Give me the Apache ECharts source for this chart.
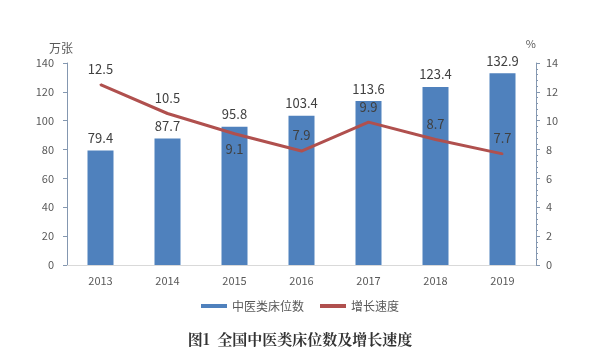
<!DOCTYPE html>
<html><head><meta charset="utf-8">
<script src="https://cdn.jsdelivr.net/npm/echarts@6/dist/echarts.min.js"></script>
<style>html,body{margin:0;padding:0;background:#fff}#c{width:600px;height:363px}</style>
</head><body><div id="c"></div>
<script>
const years = ['2013','2014','2015','2016','2017','2018','2019'];
const beds = [79.4, 87.7, 95.8, 103.4, 113.6, 123.4, 132.9];
const growth = [12.5, 10.5, 9.1, 7.9, 9.9, 8.7, 7.7];
const growthLabelPos = ['top','top','bottom','top','top','top','top'];
const barName = '中医类床位数';
const lineName = '增长速度';
const titleText = '图1  全国中医类床位数及增长速度';

const axisColor = '#8497B0';
const labelColor = '#595959';
const font = '"Noto Sans CJK SC", "Noto Sans", sans-serif';

const chart = echarts.init(document.getElementById('c'), null, {renderer:'canvas'});
chart.setOption({
  animation:false,
  textStyle:{fontFamily:font},
  title:{text:titleText, left:'center', top:327, textStyle:{fontSize:15, fontWeight:'bold', color:'#333', fontFamily:'"Noto Serif CJK SC","Noto Sans CJK SC",serif'}},
  legend:{
    bottom:46, left:'center', itemGap:16, itemWidth:26, itemHeight:4,
    textStyle:{fontSize:12, color:labelColor},
    data:[
      {name:barName, icon:'rect'},
      {name:lineName, icon:'rect', itemStyle:{color:'#B0504E', opacity:1}}
    ]
  },
  grid:{left:67, right:64, top:63, bottom:98},
  xAxis:{
    type:'category', data:years,
    axisLine:{lineStyle:{color:'#D9D9D9'}},
    axisTick:{show:false},
    axisLabel:{color:labelColor, fontSize:11, margin:10}
  },
  yAxis:[
    {type:'value', min:0, max:140, interval:20, name:'万张',
     nameTextStyle:{color:labelColor, fontSize:12, align:'center', padding:[0,12,0,0]},
     nameGap:9,
     axisLine:{show:true, lineStyle:{color:axisColor}},
     axisTick:{show:true, length:4, lineStyle:{color:axisColor}},
     axisLabel:{color:labelColor, fontSize:11, margin:13},
     splitLine:{show:false}},
    {type:'value', min:0, max:14, interval:2, name:'%', position:'right',
     nameTextStyle:{color:labelColor, fontSize:11, align:'right', padding:[0,0,4,0]},
     nameGap:10,
     axisLine:{show:true, lineStyle:{color:axisColor}},
     axisTick:{show:true, length:4, lineStyle:{color:axisColor}},
     minorTick:{show:true, splitNumber:5, length:2, lineStyle:{color:axisColor}},
     axisLabel:{color:labelColor, fontSize:11, margin:10},
     splitLine:{show:false}}
  ],
  series:[
    {name:barName, type:'bar', data:beds, barWidth:26, yAxisIndex:0,
     itemStyle:{color:'#4F81BD'},
     label:{show:true, position:'top', distance:6, color:'#404040', fontSize:13}},
    {name:lineName, type:'line', data:growth.map((v,i)=>({value:v, label:{position:growthLabelPos[i]}})),
     yAxisIndex:1, showSymbol:true, symbol:'circle', symbolSize:2,
     lineStyle:{color:'#B0504E', width:3},
     itemStyle:{color:'#B0504E'},
     label:{show:true, position:'top', distance:8, color:'#404040', fontSize:13},
     labelLayout:{hideOverlap:false},
     z:3}
  ]
});
</script></body></html>
